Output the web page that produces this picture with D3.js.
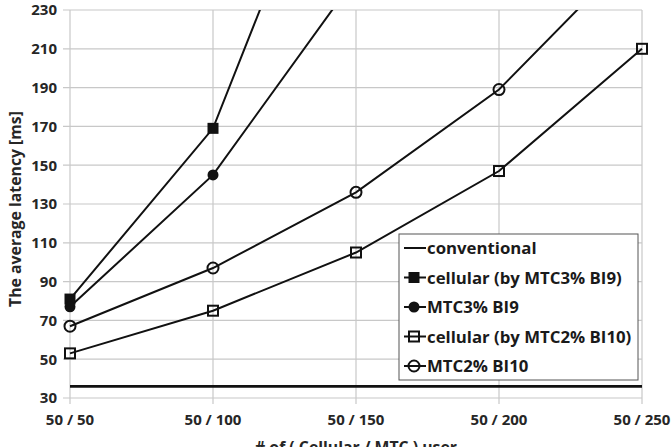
<!DOCTYPE html>
<html><head><meta charset="utf-8">
<script src="https://cdn.jsdelivr.net/npm/d3@7"></script>
<style>
html,body{margin:0;padding:0;background:#fff;}
svg text{font-family:"Open Sans",Lato,sans-serif;font-weight:bold;}
</style></head>
<body>
<svg id="c" width="672" height="447"></svg>
<script>
const categories = ["50 / 50","50 / 100","50 / 150","50 / 200","50 / 250"];
const yTicks = [30,50,70,90,110,130,150,170,190,210,230];
const conventional = [36,36,36,36,36];
const cellularMTC3 = [81,169,355];
const mtc3BI9 = [77,145,247];
const cellularMTC2 = [53,75,105,147,210];
const mtc2BI10 = [67,97,136,189,264];
const seriesNames = ["conventional","cellular (by MTC3% BI9)","MTC3% BI9","cellular (by MTC2% BI10)","MTC2% BI10"];

(function(){
const series = [
  {name:seriesNames[0], values:conventional, marker:"none"},
  {name:seriesNames[1], values:cellularMTC3, marker:"squareFilled"},
  {name:seriesNames[2], values:mtc3BI9, marker:"circleFilled"},
  {name:seriesNames[3], values:cellularMTC2, marker:"squareOpen"},
  {name:seriesNames[4], values:mtc2BI10, marker:"circleOpen"}
];

const svg = d3.select("#c");
const pL = 70, pR = 642, pT = 10, pB = 398;
const x = d3.scalePoint().domain(categories).range([pL,pR]);
const y = d3.scaleLinear().domain([30,230]).range([pB,pT]);

svg.append("defs").append("clipPath").attr("id","clip")
  .append("rect").attr("x",pL-10).attr("y",pT).attr("width",pR-pL+20).attr("height",pB-pT);

const grid = svg.append("g");
grid.selectAll("line.h").data(yTicks).join("line")
  .attr("x1",pL-7).attr("x2",pR).attr("y1",d=>y(d)).attr("y2",d=>y(d))
  .attr("stroke","#c8c8c8").attr("stroke-width",1.2);
grid.selectAll("line.v").data(categories).join("line")
  .attr("x1",d=>x(d)).attr("x2",d=>x(d)).attr("y1",pT).attr("y2",pB+6)
  .attr("stroke","#c8c8c8").attr("stroke-width",1.2);

svg.append("g").selectAll("text").data(yTicks).join("text")
  .attr("x",57).attr("y",d=>y(d)).attr("dy","0.36em").attr("text-anchor","end")
  .attr("font-size",15).attr("fill","#262626").text(d=>d);
svg.append("g").selectAll("text").data(categories).join("text")
  .attr("x",d=>x(d)).attr("y",420).attr("dy","0.36em").attr("text-anchor","middle")
  .attr("font-size",15).attr("fill","#262626").text(d=>d);

svg.append("text").attr("transform","translate(15,209) rotate(-90)").attr("text-anchor","middle")
  .attr("dy","0.36em").attr("font-size",15.8).attr("fill","#262626").text("The average latency [ms]");
svg.append("text").attr("x",356).attr("y",447).attr("dy","0.36em").attr("text-anchor","middle")
  .attr("font-size",15.8).attr("fill","#262626").text("# of ( Cellular / MTC ) user");

const line = d3.line().x((d,i)=>x(categories[i])).y(d=>y(d));
const plot = svg.append("g").attr("clip-path","url(#clip)");
series.forEach(s=>{
  plot.append("path").datum(s.values).attr("d",line).attr("fill","none")
    .attr("stroke","#111").attr("stroke-width",s.marker==="none"?2.6:2);
});

function drawMarker(g, type, cx, cy){
  if(type==="squareFilled"){
    g.append("rect").attr("x",cx-5.5).attr("y",cy-5.5).attr("width",11).attr("height",11).attr("fill","#111");
  } else if(type==="squareOpen"){
    g.append("rect").attr("x",cx-5).attr("y",cy-5).attr("width",10).attr("height",10).attr("fill","none").attr("stroke","#111").attr("stroke-width",2);
  } else if(type==="circleFilled"){
    g.append("circle").attr("cx",cx).attr("cy",cy).attr("r",5.5).attr("fill","#111");
  } else if(type==="circleOpen"){
    g.append("circle").attr("cx",cx).attr("cy",cy).attr("r",5.5).attr("fill","none").attr("stroke","#111").attr("stroke-width",2);
  }
}
const mk = svg.append("g");
series.forEach(s=>{
  if(s.marker==="none") return;
  s.values.forEach((v,i)=>{
    if(v<=230) drawMarker(mk, s.marker, x(categories[i]), y(v));
  });
});

const lg = svg.append("g");
lg.append("rect").attr("x",399).attr("y",234).attr("width",239).attr("height",146)
  .attr("fill","#fff").attr("stroke","#555").attr("stroke-width",1);
series.forEach((s,i)=>{
  const ly = 248 + i*29.5;
  lg.append("line").attr("x1",404).attr("x2",426).attr("y1",ly).attr("y2",ly)
    .attr("stroke","#111").attr("stroke-width",2);
  drawMarker(lg, s.marker, 414, ly);
  lg.append("text").attr("x",427).attr("y",ly).attr("dy","0.36em")
    .attr("font-size",16.8).attr("fill","#1a1a1a").text(s.name);
});
})();
</script>
</body></html>
